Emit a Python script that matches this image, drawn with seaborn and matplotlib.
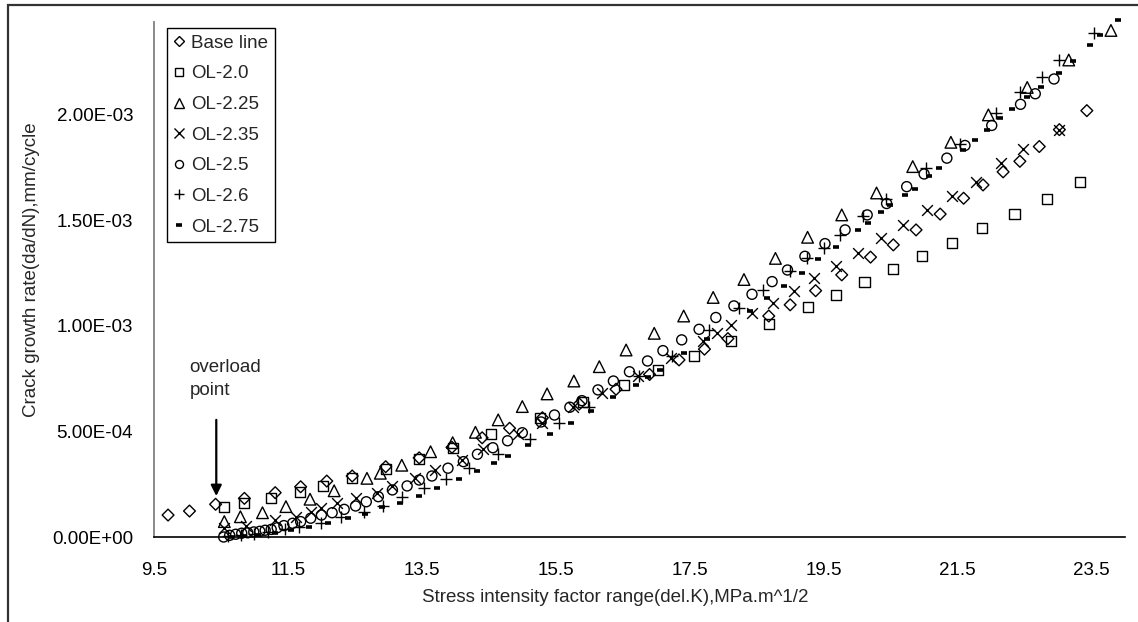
import numpy as np
import pandas as pd
import matplotlib
matplotlib.use("Agg")
import matplotlib.pyplot as plt
from matplotlib.lines import Line2D
from matplotlib.patches import Rectangle
import seaborn as sns

# Crack growth rate (mm/cycle) against stress intensity factor range (MPa.m^1/2)
base_dk = [9.71, 10.03, 10.42, 10.85, 11.31, 11.69, 12.08, 12.46, 12.96, 13.46,
           13.95, 14.40, 14.81, 15.30, 15.85, 16.40, 16.90, 17.34, 17.72, 18.07,
           18.68, 19.00, 19.38, 19.77, 20.20, 20.54, 20.88, 21.24, 21.59, 21.88,
           22.18, 22.43, 22.72, 23.02, 23.43]
base_rate = [1.04e-4, 1.23e-4, 1.55e-4, 1.83e-4, 2.10e-4, 2.38e-4, 2.65e-4, 2.89e-4, 3.33e-4, 3.75e-4,
             4.25e-4, 4.70e-4, 5.15e-4, 5.65e-4, 6.30e-4, 7.00e-4, 7.70e-4, 8.39e-4, 8.90e-4, 9.40e-4,
             1.047e-3, 1.10e-3, 1.167e-3, 1.242e-3, 1.326e-3, 1.384e-3, 1.455e-3, 1.53e-3, 1.605e-3, 1.668e-3,
             1.73e-3, 1.78e-3, 1.85e-3, 1.93e-3, 2.02e-3]

ol200_dk = [10.55, 10.84, 11.25, 11.68, 12.02, 12.45, 12.96, 13.46, 13.97, 14.53,
            15.26, 15.90, 16.52, 17.03, 17.56, 18.11, 18.69, 19.27, 19.68, 20.11,
            20.53, 20.97, 21.42, 21.87, 22.35, 22.84, 23.33]
ol200_rate = [1.44e-4, 1.60e-4, 1.83e-4, 2.15e-4, 2.42e-4, 2.78e-4, 3.21e-4, 3.68e-4, 4.20e-4, 4.87e-4,
              5.62e-4, 6.40e-4, 7.20e-4, 7.90e-4, 8.58e-4, 9.30e-4, 1.01e-3, 1.091e-3, 1.147e-3, 1.209e-3,
              1.272e-3, 1.332e-3, 1.395e-3, 1.466e-3, 1.53e-3, 1.60e-3, 1.68e-3]

ol225_dk = [10.55, 10.79, 11.12, 11.47, 11.83, 12.19, 12.68, 12.88, 13.20, 13.63,
            13.96, 14.30, 14.64, 15.00, 15.37, 15.77, 16.15, 16.55, 16.97, 17.41,
            17.85, 18.31, 18.78, 19.26, 19.77, 20.29, 20.83, 21.40, 21.96, 22.54,
            23.16, 23.79]
ol225_rate = [0.73e-4, 0.96e-4, 1.15e-4, 1.44e-4, 1.79e-4, 2.19e-4, 2.78e-4, 3.02e-4, 3.40e-4, 4.04e-4,
              4.47e-4, 4.96e-4, 5.55e-4, 6.18e-4, 6.78e-4, 7.39e-4, 8.07e-4, 8.86e-4, 9.65e-4, 1.047e-3,
              1.135e-3, 1.22e-3, 1.32e-3, 1.42e-3, 1.526e-3, 1.63e-3, 1.755e-3, 1.87e-3, 2.00e-3, 2.13e-3,
              2.26e-3, 2.40e-3]

ol235_dk = [10.54, 10.88, 11.30, 11.62, 11.84, 12.00, 12.24, 12.51, 12.83, 13.06,
            13.40, 13.70, 14.10, 14.42, 14.93, 15.30, 15.76, 16.19, 16.73, 17.22,
            17.70, 17.91, 18.11, 18.43, 18.74, 19.05, 19.36, 19.69, 20.02, 20.36,
            20.69, 21.05, 21.42, 21.77, 22.15, 22.47, 23.02]
ol235_rate = [0.41e-4, 0.52e-4, 0.81e-4, 0.96e-4, 1.20e-4, 1.36e-4, 1.60e-4, 1.83e-4, 2.07e-4, 2.42e-4,
              2.80e-4, 3.18e-4, 3.65e-4, 4.16e-4, 4.88e-4, 5.42e-4, 6.15e-4, 6.84e-4, 7.63e-4, 8.47e-4,
              9.30e-4, 9.66e-4, 1.005e-3, 1.06e-3, 1.11e-3, 1.167e-3, 1.229e-3, 1.284e-3, 1.347e-3, 1.416e-3,
              1.479e-3, 1.55e-3, 1.616e-3, 1.684e-3, 1.77e-3, 1.84e-3, 1.93e-3]

ol250_dk = [10.54, 10.63, 10.72, 10.81, 10.90, 10.99, 11.08, 11.16, 11.25, 11.34,
            11.44, 11.57, 11.69, 11.84, 12.00, 12.16, 12.34, 12.51, 12.67, 12.85,
            13.06, 13.28, 13.46, 13.65, 13.89, 14.12, 14.33, 14.56, 14.78, 15.00,
            15.28, 15.48, 15.71, 15.89, 16.13, 16.36, 16.60, 16.87, 17.10, 17.38,
            17.64, 17.89, 18.16, 18.43, 18.73, 18.96, 19.22, 19.52, 19.82, 20.15,
            20.44, 20.74, 21.00, 21.34, 21.61, 22.01, 22.44, 22.66, 22.94]
ol250_rate = [0.0, 0.08e-4, 0.13e-4, 0.18e-4, 0.20e-4, 0.24e-4, 0.27e-4, 0.32e-4, 0.36e-4, 0.44e-4,
              0.54e-4, 0.65e-4, 0.73e-4, 0.89e-4, 1.04e-4, 1.15e-4, 1.31e-4, 1.47e-4, 1.67e-4, 1.91e-4,
              2.23e-4, 2.42e-4, 2.70e-4, 2.89e-4, 3.26e-4, 3.57e-4, 3.92e-4, 4.23e-4, 4.56e-4, 4.94e-4,
              5.45e-4, 5.78e-4, 6.15e-4, 6.46e-4, 6.97e-4, 7.39e-4, 7.83e-4, 8.34e-4, 8.83e-4, 9.34e-4,
              9.84e-4, 1.04e-3, 1.095e-3, 1.15e-3, 1.21e-3, 1.265e-3, 1.33e-3, 1.39e-3, 1.455e-3, 1.526e-3,
              1.58e-3, 1.66e-3, 1.72e-3, 1.795e-3, 1.855e-3, 1.95e-3, 2.05e-3, 2.10e-3, 2.17e-3]

ol260_dk = [10.60, 10.80, 11.00, 11.20, 11.45, 11.67, 11.99, 12.29, 12.64, 12.92,
            13.21, 13.53, 13.86, 14.20, 14.64, 15.11, 15.55, 16.00, 16.75, 17.23,
            17.79, 18.24, 18.60, 19.00, 19.25, 19.50, 19.74, 20.09, 20.43, 21.03,
            21.53, 22.07, 22.43, 22.76, 23.01, 23.54]
ol260_rate = [0.05e-4, 0.10e-4, 0.15e-4, 0.25e-4, 0.38e-4, 0.49e-4, 0.68e-4, 0.96e-4, 1.20e-4, 1.48e-4,
              1.88e-4, 2.31e-4, 2.73e-4, 3.26e-4, 3.93e-4, 4.63e-4, 5.42e-4, 6.18e-4, 7.63e-4, 8.58e-4,
              9.80e-4, 1.086e-3, 1.17e-3, 1.262e-3, 1.32e-3, 1.37e-3, 1.43e-3, 1.52e-3, 1.60e-3, 1.75e-3,
              1.86e-3, 2.01e-3, 2.11e-3, 2.18e-3, 2.26e-3, 2.39e-3]

ol275_dk = [10.65, 10.85, 11.05, 11.30, 11.55, 11.82, 12.10, 12.40, 12.65, 12.91,
            13.17, 13.46, 13.72, 14.05, 14.33, 14.57, 14.78, 15.09, 15.41, 15.72,
            16.03, 16.36, 16.70, 16.87, 17.06, 17.42, 17.76, 18.40, 18.65, 18.91,
            19.17, 19.42, 19.69, 20.02, 20.16, 20.36, 20.49, 20.71, 20.86, 21.07,
            21.22, 21.58, 21.76, 21.94, 22.13, 22.32, 22.53, 22.74, 23.01, 23.23,
            23.47, 23.63, 23.90]
ol275_rate = [0.02e-4, 0.05e-4, 0.10e-4, 0.20e-4, 0.35e-4, 0.49e-4, 0.68e-4, 0.89e-4, 1.08e-4, 1.41e-4,
              1.60e-4, 1.96e-4, 2.31e-4, 2.73e-4, 3.14e-4, 3.49e-4, 3.84e-4, 4.36e-4, 4.87e-4, 5.42e-4,
              5.97e-4, 6.62e-4, 7.20e-4, 7.60e-4, 7.90e-4, 8.74e-4, 9.40e-4, 1.07e-3, 1.13e-3, 1.19e-3,
              1.25e-3, 1.316e-3, 1.376e-3, 1.455e-3, 1.49e-3, 1.54e-3, 1.573e-3, 1.62e-3, 1.65e-3, 1.71e-3,
              1.75e-3, 1.834e-3, 1.88e-3, 1.93e-3, 1.984e-3, 2.03e-3, 2.087e-3, 2.13e-3, 2.20e-3, 2.256e-3,
              2.33e-3, 2.38e-3, 2.45e-3]

series_names = ["Base line", "OL-2.0", "OL-2.25", "OL-2.35", "OL-2.5", "OL-2.6", "OL-2.75"]
x_ticks = [9.5, 11.5, 13.5, 15.5, 17.5, 19.5, 21.5, 23.5]
y_ticks = [0.0, 5.0e-4, 1.0e-3, 1.5e-3, 2.0e-3]

frames = []
for name, dk, rate in zip(series_names,
                          [base_dk, ol200_dk, ol225_dk, ol235_dk, ol250_dk, ol260_dk, ol275_dk],
                          [base_rate, ol200_rate, ol225_rate, ol235_rate, ol250_rate, ol260_rate, ol275_rate]):
    frames.append(pd.DataFrame({"dK": dk, "rate": rate, "series": name}))
df = pd.concat(frames, ignore_index=True)

sns.set_style("white")
plt.rcParams["font.family"] = ["Liberation Sans", "DejaVu Sans"]
FS = 13.5

fig = plt.figure(figsize=(11.38, 6.22), dpi=100)
ax = fig.add_axes([154 / 1138, 1 - 537 / 622, (1125 - 154) / 1138, (537 - 22) / 622])

# marker style per series: (marker, size in pt^2, open outline?)
styles = {
    "Base line": ("D", 36, True),
    "OL-2.0": ("s", 52, True),
    "OL-2.25": ("^", 70, True),
    "OL-2.35": ("x", 60, False),
    "OL-2.5": ("o", 52, True),
    "OL-2.6": ("+", 75, False),
    "OL-2.75": ("_", 22, False),
}

for name in series_names:
    m, s, is_open = styles[name]
    sub = df[df["series"] == name]
    if is_open:
        sns.scatterplot(data=sub, x="dK", y="rate", ax=ax, marker=m, s=s,
                        facecolors="none", edgecolor="black", linewidth=1.0,
                        clip_on=False, legend=False)
    else:
        lw = 2.6 if m == "_" else 1.0
        sns.scatterplot(data=sub, x="dK", y="rate", ax=ax, marker=m, s=s,
                        color="black", linewidth=lw, clip_on=False, legend=False)

ax.set_xlim(9.5, 24.0)
ax.set_ylim(0, 2.44e-3)
ax.set_xticks(x_ticks)
ax.set_xticklabels([f"{v:.1f}" for v in x_ticks])
ax.set_yticks(y_ticks)
ax.set_yticklabels([f"{v:.2E}" for v in y_ticks])
ax.tick_params(axis="both", direction="out", length=5, width=1, labelsize=FS,
               colors="black")
ax.tick_params(axis="y", pad=10)
ax.tick_params(axis="x", pad=13)
for side in ["top", "right"]:
    ax.spines[side].set_visible(False)
ax.spines["left"].set_color("#808080")
ax.spines["left"].set_linewidth(1.3)
ax.spines["bottom"].set_color("black")
ax.spines["bottom"].set_linewidth(1.2)

ax.set_xlabel("")
ax.set_ylabel("")
fig.text(615 / 1138, 1 - 598 / 622, "Stress intensity factor range(del.K),MPa.m^1/2",
         ha="center", va="center", fontsize=FS)
fig.text(32 / 1138, 1 - 270 / 622, "Crack growth rate(da/dN),mm/cycle",
         ha="center", va="center", rotation=90, fontsize=FS)

# overload marker arrow and note
ax.annotate("", xy=(10.43, 1.94e-4), xytext=(10.43, 5.55e-4),
            arrowprops=dict(arrowstyle="-|>", color="black", lw=1.6,
                            mutation_scale=16, shrinkA=0, shrinkB=0))
ax.text(10.03, 7.5e-4, "overload\npoint", ha="left", va="center", fontsize=FS,
        linespacing=1.45)

handles = []
for name in series_names:
    m, s, is_open = styles[name]
    if is_open:
        h = Line2D([], [], linestyle="none", marker=m, markersize=np.sqrt(s) * 0.8,
                   markerfacecolor="none", markeredgecolor="black", markeredgewidth=1.0)
    else:
        lw = 2.6 if m == "_" else 1.0
        h = Line2D([], [], linestyle="none", marker=m, markersize=np.sqrt(s) * 0.9,
                   color="black", markeredgewidth=lw)
    handles.append(h)
leg = ax.legend(handles, series_names, loc="upper left", bbox_to_anchor=(0.0134, 0.988),
                borderaxespad=0, fontsize=FS, frameon=True, fancybox=False,
                handlelength=0.6, handletextpad=0.35, labelspacing=0.72,
                borderpad=0.35)
leg.get_frame().set_edgecolor("black")
leg.get_frame().set_linewidth(1.0)
leg.get_frame().set_alpha(1.0)

# chart-area border (left and top edges fall inside the image)
fig.add_artist(Rectangle((8 / 1138, -0.1), 1.2, 1.1 - 5 / 622, transform=fig.transFigure,
                         fill=False, edgecolor="#333333", linewidth=1.6))

fig.savefig("out.png", dpi=100)
